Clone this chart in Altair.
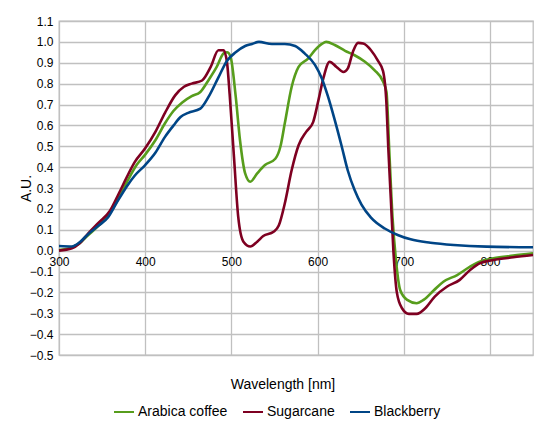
import altair as alt
import pandas as pd

series_names = ["Arabica coffee", "Sugarcane", "Blackberry"]
series_colors = ["#579d1c", "#7e0021", "#004586"]

arabica_wl = [300, 311, 322, 334, 346, 359, 369, 379, 390, 400, 412, 423, 433, 443, 454, 464, 474, 483, 491, 495,
              499, 505, 510, 516, 522, 530, 539, 551, 557, 562, 570, 578, 589, 597, 605, 610, 620, 632, 643, 655,
              666, 676, 680, 683, 687, 691, 696, 704, 715, 723, 735, 746, 762, 777, 788, 804, 827, 850]
arabica_v = [0.003, 0.01, 0.03, 0.075, 0.12, 0.18, 0.25, 0.33, 0.41, 0.46, 0.53, 0.61, 0.67, 0.71, 0.74, 0.76, 0.82,
             0.88, 0.945, 0.95, 0.93, 0.74, 0.53, 0.37, 0.33, 0.37, 0.41, 0.44, 0.50, 0.61, 0.785, 0.88, 0.92, 0.96,
             0.99, 1.0, 0.985, 0.957, 0.936, 0.905, 0.865, 0.81, 0.76, 0.50, 0.16, -0.045, -0.19, -0.236, -0.252,
             -0.236, -0.19, -0.149, -0.117, -0.077, -0.053, -0.037, -0.024, -0.013]

sugarcane_wl = [300, 315, 324, 334, 346, 359, 369, 379, 388, 400, 412, 423, 435, 445, 454, 466, 476, 485, 491, 495,
                498, 503, 508, 514, 522, 530, 537, 549, 555, 562, 570, 578, 587, 595, 601, 607, 614, 622, 630, 635,
                641, 647, 653, 662, 670, 676, 680, 682, 685, 688, 692, 698, 706, 715, 725, 736, 750, 765, 777, 788,
                804, 827, 850]
sugarcane_v = [0.0, 0.011, 0.035, 0.083, 0.134, 0.19, 0.27, 0.355, 0.425, 0.49, 0.57, 0.66, 0.745, 0.785, 0.80, 0.815,
               0.88, 0.96, 0.96, 0.9, 0.75, 0.45, 0.16, 0.043, 0.02, 0.043, 0.07, 0.09, 0.12, 0.226, 0.386, 0.505,
               0.57, 0.617, 0.72, 0.83, 0.905, 0.88, 0.856, 0.872, 0.952, 0.995, 0.992, 0.96, 0.91, 0.86, 0.7, 0.5,
               0.25, 0.0, -0.2, -0.276, -0.303, -0.303, -0.276, -0.22, -0.173, -0.14, -0.093, -0.061, -0.045,
               -0.032, -0.021]

blackberry_wl = [300, 315, 324, 334, 346, 357, 367, 379, 388, 400, 412, 423, 433, 441, 450, 464, 474, 485, 495, 505,
                 516, 524, 532, 547, 562, 574, 585, 597, 605, 612, 620, 628, 635, 643, 651, 662, 678, 693, 708, 731,
                 758, 796, 850]
blackberry_v = [0.022, 0.02, 0.04, 0.08, 0.12, 0.16, 0.23, 0.31, 0.36, 0.41, 0.47, 0.545, 0.60, 0.64, 0.66, 0.68,
                0.74, 0.83, 0.91, 0.95, 0.98, 0.99, 1.0, 0.99, 0.99, 0.98, 0.945, 0.89, 0.825, 0.74, 0.625, 0.50,
                0.385, 0.29, 0.22, 0.158, 0.106, 0.075, 0.054, 0.038, 0.027, 0.019, 0.016]

x_ticks = [300, 400, 500, 600, 700, 800]
y_ticks = [round(-0.5 + 0.1 * i, 1) for i in range(17)]

frames = []
for name, wl, v, o in [("Arabica coffee", arabica_wl, arabica_v, 3),
                       ("Sugarcane", sugarcane_wl, sugarcane_v, 2),
                       ("Blackberry", blackberry_wl, blackberry_v, 1)]:
    frames.append(pd.DataFrame({"series": name, "wl": wl, "v": v, "z": o}))
df = pd.concat(frames, ignore_index=True)

chart = alt.Chart(df).mark_line(strokeWidth=2.6, interpolate="monotone").encode(
    x=alt.X("wl:Q",
            scale=alt.Scale(domain=[300, 850], nice=False, zero=False),
            axis=alt.Axis(values=x_ticks, title="Wavelength [nm]", offset=-104.3,
                          domain=False, ticks=False, labelPadding=6, labelFontSize=12,
                          titleFontSize=14, titleFontWeight="normal", titleX=223.5, titleY=138,
                          titleBaseline="alphabetic", titleAlign="center", labelFlush=False,
                          gridColor="#c0c0c0", gridWidth=1.3)),
    y=alt.Y("v:Q",
            scale=alt.Scale(domain=[-0.5, 1.1], nice=False, zero=False),
            axis=alt.Axis(values=y_ticks, format=".1f", title="A.U.", domain=False, ticks=False,
                          labelPadding=6, labelFontSize=12, titleFontSize=14, titleFontWeight="normal",
                          titleX=-33, titleY=167, titleAngle=270, titleBaseline="middle",
                          titleAlign="center", labelFlush=False,
                          gridColor="#c0c0c0", gridWidth=1.3)),
    color=alt.Color("series:N",
                    scale=alt.Scale(domain=series_names, range=series_colors),
                    legend=alt.Legend(title=None, orient="none", direction="horizontal",
                                      legendX=54, legendY=380, symbolType="stroke",
                                      symbolSize=400, symbolStrokeWidth=2, labelFontSize=14,
                                      labelOffset=3, columnPadding=11, padding=0)),
    order=alt.Order("z:Q"),
).properties(
    width=474, height=334,
    autosize=alt.AutoSizeParams(type="none"),
    padding={"left": 51, "top": 13, "right": 7, "bottom": 64},
).configure(
    font="Liberation Sans",
).configure_view(
    stroke="#c0c0c0", strokeWidth=1.3,
).configure_axis(
    labelColor="#000000", titleColor="#000000", labelFont="Liberation Sans", titleFont="Liberation Sans",
).configure_legend(
    labelColor="#000000", labelFont="Liberation Sans",
)

chart.save("out.html", embed_options={"renderer": "svg", "actions": False})
